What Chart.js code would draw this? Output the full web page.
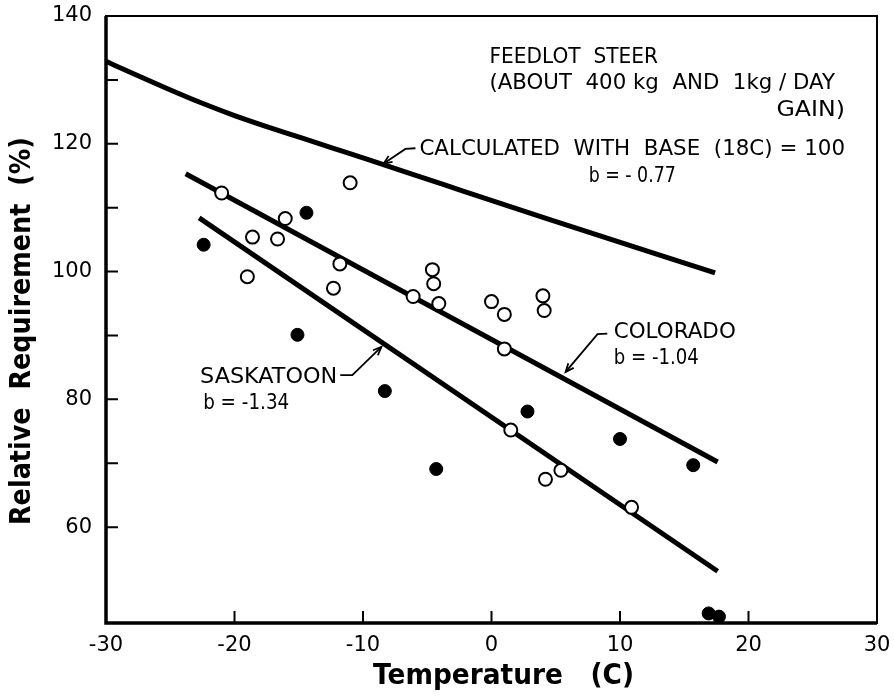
<!DOCTYPE html>
<html>
<head>
<meta charset="utf-8">
<script src="https://cdn.jsdelivr.net/npm/chart.js@4.4.0/dist/chart.umd.min.js"></script>
<style>
  html, body { margin: 0; padding: 0; background: #fff; }
  #wrap { width: 894px; height: 697px; }
</style>
</head>
<body>
<div id="wrap"><canvas id="chart" width="894" height="697"></canvas></div>
<script>
// axes
const xRange = [-30, 30]
const yRange = [45, 140]
const xTickMarks = [-20, -10, 0, 10, 20]
const yTickLabels = [60, 80, 100, 120, 140]
const yTickMarks = [60, 70, 80, 90, 100, 110, 120, 130]

// Colorado, open circles
const coloradoTemp = [-21.0, -19.0, -18.6, -16.65, -16.05, -12.3, -11.8, -11.0, -6.1, -4.6, -4.5, -4.1, 0.0, 1.0, 1.0, 1.5, 4.0, 4.1, 4.2, 5.4, 10.9]
const coloradoReq  = [112.3, 99.2, 105.4, 105.1, 108.3, 97.4, 101.2, 113.9, 96.1, 100.3, 98.1, 95.0, 95.3, 93.3, 87.9, 75.2, 96.2, 93.9, 67.5, 68.9, 63.1]

// Saskatoon, filled circles
const saskTemp = [-22.4, -15.1, -14.4, -8.3, -4.3, 2.8, 10.0, 15.7, 16.9, 17.7]
const saskReq  = [104.2, 90.1, 109.2, 81.3, 69.1, 78.1, 73.8, 69.7, 46.5, 46.0]

// fitted lines (end points) and calculated curve
const coloradoFitTemp = [-23.8, 17.6]
const coloradoFitReq  = [115.3, 70.2]
const saskFitTemp = [-22.75, 17.6]
const saskFitReq  = [108.4, 53.1]
const calcTemp = [-30, -27.9, -25.3, -22.7, -20.1, -17.5, -14.9, -12.3, -9.7, -3.7, 4.3, 17.4]
const calcReq  = [132.9, 131.0, 128.7, 126.5, 124.5, 122.7, 121.0, 119.3, 117.6, 113.6, 108.3, 99.8]

// annotations: text, left/right temp, centre requirement
const noteText  = ['FEEDLOT  STEER', '(ABOUT  400 kg  AND  1kg / DAY', 'GAIN)', 'CALCULATED  WITH  BASE  (18C) = 100', 'b = - 0.77', 'COLORADO', 'b = -1.04', 'SASKATOON', 'b = -1.34']
const noteLeft  = [-0.16, -0.16, 22.18, -5.61, 7.56, 9.51, 9.51, -22.68, -22.44]
const noteRight = [12.96, 26.73, 27.51, 27.51, 14.34, 19.01, 16.13, -12.0, -15.74]
const noteY     = [133.5, 129.4, 125.3, 119.2, 114.85, 90.43, 86.47, 83.5, 79.43]

// arrows: start, bend, tip
const arrows = [
  [[-5.92, 119.3], [-6.7, 119.2], [-8.39, 116.9]],
  [[9.01, 90.3], [8.25, 90.2], [5.77, 84.3]],
  [[-11.77, 83.8], [-10.83, 83.8], [-8.57, 88.2]]
]

const zip = (xs, ys) => xs.map((x, i) => ({x: x, y: ys[i]}))
const FONT = '"DejaVu Sans", sans-serif'

// draw text squeezed to a given width, centred on (cx, cy)
function fitText(ctx, t, cx, cy, width) {
  const w = ctx.measureText(t).width
  ctx.save()
  ctx.translate(cx, cy)
  ctx.scale(width / w, 1)
  ctx.textAlign = 'center'
  ctx.fillText(t, 0, 0)
  ctx.restore()
}

const figurePlugin = {
  id: 'figure',
  afterDatasetsDraw(chart) {
    const ctx = chart.ctx
    const xs = chart.scales.x, ys = chart.scales.y
    const a = chart.chartArea
    ctx.save()
    ctx.strokeStyle = '#000'
    ctx.fillStyle = '#000'

    // frame
    ctx.lineWidth = 2
    ctx.strokeRect(a.left, a.top, a.right - a.left, a.bottom - a.top)
    ctx.lineWidth = 3.5
    ctx.beginPath()
    ctx.moveTo(a.left, a.top)
    ctx.lineTo(a.left, a.bottom)
    ctx.lineTo(a.right, a.bottom)
    ctx.stroke()

    // inward ticks
    ctx.lineWidth = 2
    ctx.beginPath()
    for (const v of yTickMarks) {
      const py = ys.getPixelForValue(v)
      ctx.moveTo(a.left, py)
      ctx.lineTo(a.left + 12, py)
    }
    for (const v of xTickMarks) {
      const px = xs.getPixelForValue(v)
      ctx.moveTo(px, a.bottom)
      ctx.lineTo(px, a.bottom - 12)
    }
    ctx.stroke()

    // notes
    ctx.font = '22px ' + FONT
    ctx.textBaseline = 'middle'
    noteText.forEach((t, i) => {
      const l = xs.getPixelForValue(noteLeft[i])
      const r = xs.getPixelForValue(noteRight[i])
      const py = ys.getPixelForValue(noteY[i])
      fitText(ctx, t, (l + r) / 2, py, r - l)
    })

    // arrows
    ctx.lineWidth = 1.8
    arrows.forEach(ar => {
      const p = ar.map(q => [xs.getPixelForValue(q[0]), ys.getPixelForValue(q[1])])
      ctx.beginPath()
      ctx.moveTo(p[0][0], p[0][1])
      ctx.lineTo(p[1][0], p[1][1])
      const cx = p[1][0] + (p[2][0] - p[1][0]) * 0.3
      const cy = p[1][1] + (p[2][1] - p[1][1]) * 0.3
      ctx.quadraticCurveTo(cx, cy, p[2][0], p[2][1])
      ctx.stroke()
      const ang = Math.atan2(p[2][1] - cy, p[2][0] - cx)
      ctx.beginPath()
      ctx.moveTo(p[2][0] - 9 * Math.cos(ang - 0.4), p[2][1] - 9 * Math.sin(ang - 0.4))
      ctx.lineTo(p[2][0], p[2][1])
      ctx.lineTo(p[2][0] - 9 * Math.cos(ang + 0.4), p[2][1] - 9 * Math.sin(ang + 0.4))
      ctx.stroke()
    })

    // axis titles
    ctx.font = 'bold 29px ' + FONT
    fitText(ctx, 'Temperature   (C)', 503.5, 676, 261)
    ctx.save()
    ctx.translate(22, 331)
    ctx.rotate(-Math.PI / 2)
    fitText(ctx, 'Relative  Requirement  (%)', 0, 0, 388)
    ctx.restore()

    ctx.restore()
  }
}

const config = {
  type: 'scatter',
  data: {
    datasets: [
      {
        data: zip(coloradoTemp, coloradoReq),
        pointStyle: 'circle', pointRadius: 6.5, borderWidth: 2,
        borderColor: '#000', backgroundColor: '#fff', order: 0, clip: false
      },
      {
        data: zip(saskTemp, saskReq),
        pointStyle: 'circle', pointRadius: 6.5, borderWidth: 1,
        borderColor: '#000', backgroundColor: '#000', order: 0, clip: false
      },
      {
        data: zip(calcTemp, calcReq),
        showLine: true, pointRadius: 0, borderWidth: 5, borderColor: '#000',
        cubicInterpolationMode: 'monotone', borderCapStyle: 'butt', order: 1
      },
      {
        data: zip(coloradoFitTemp, coloradoFitReq),
        showLine: true, pointRadius: 0, borderWidth: 5, borderColor: '#000',
        borderCapStyle: 'butt', order: 1
      },
      {
        data: zip(saskFitTemp, saskFitReq),
        showLine: true, pointRadius: 0, borderWidth: 5, borderColor: '#000',
        borderCapStyle: 'butt', order: 1
      }
    ]
  },
  options: {
    responsive: false,
    animation: false,
    devicePixelRatio: 1,
    layout: { padding: { top: 16, right: 17, left: 0, bottom: 0 } },
    plugins: {
      legend: { display: false },
      tooltip: { enabled: false }
    },
    scales: {
      x: {
        type: 'linear', min: xRange[0], max: xRange[1],
        grid: { display: false, drawTicks: false },
        border: { display: false },
        ticks: { stepSize: 10, padding: 10, color: '#000', font: { family: FONT, size: 21 } },
        afterFit: s => { s.height = 74; s.paddingLeft = 0; s.paddingRight = 0 }
      },
      y: {
        type: 'linear', min: yRange[0], max: yRange[1],
        grid: { display: false, drawTicks: false },
        border: { display: false },
        ticks: { padding: 14, color: '#000', font: { family: FONT, size: 21 } },
        afterBuildTicks: s => { s.ticks = yTickLabels.map(v => ({value: v})) },
        afterFit: s => { s.width = 106; s.paddingTop = 0; s.paddingBottom = 0 }
      }
    }
  },
  plugins: [figurePlugin]
}

window.onload = () => {
  new Chart(document.getElementById('chart'), config)
}
</script>
</body>
</html>
